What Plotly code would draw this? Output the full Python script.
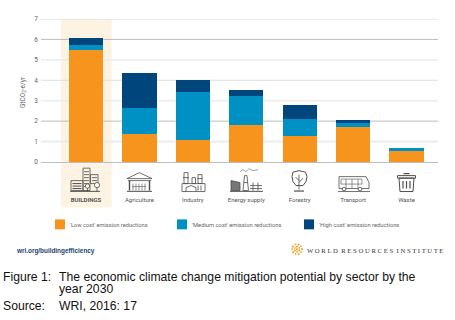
import math
import plotly.graph_objects as go

categories = ["BUILDINGS", "Agriculture", "Industry", "Energy supply", "Forestry", "Transport", "Waste"]
low_cost = [5.50, 1.37, 1.09, 1.81, 1.27, 1.73, 0.54]
medium_cost = [0.23, 1.28, 2.35, 1.40, 0.83, 0.19, 0.16]
high_cost = [0.34, 1.70, 0.55, 0.32, 0.68, 0.15, 0.0]
y_ticks = [0, 1, 2, 3, 4, 5, 6, 7]
grid_colors = {1: "#ececec", 2: "#bdbdbd", 3: "#ececec", 4: "#dedede", 5: "#ececec", 6: "#bdbdbd", 7: "#e8e8e8"}
grid_widths = {1: 2, 2: 1, 3: 1.5, 4: 1, 5: 1.5, 6: 1, 7: 2}

ORANGE, TEAL, NAVY = "#f7941e", "#0091c4", "#00457c"
GREY = "#4d4d4d"
W, H = 455, 320
L, R, T, B = 41, 438, 18.5, 162.3


def fx(x):
    return (x - L) / (R - L)


def fy(y):
    return (B - y) / (B - T)


def path(points, close=False, color=GREY, width=0.8, fill=None):
    d = "M" + " L".join(f"{fx(x):.5f},{fy(y):.5f}" for x, y in points) + (" Z" if close else "")
    s = dict(type="path", xref="paper", yref="paper", path=d, line=dict(color=color, width=width))
    if fill:
        s["fillcolor"] = fill
    return s


def rect(x0, y0, x1, y1, color=GREY, width=0.8, fill=None, layer="above"):
    s = dict(type="rect", xref="paper", yref="paper", x0=fx(x0), x1=fx(x1), y0=fy(y1), y1=fy(y0),
             line=dict(color=color, width=width), layer=layer)
    if fill:
        s["fillcolor"] = fill
    if width == 0:
        s["line"] = dict(width=0)
    return s


def circle(cx, cy, r, color=GREY, width=0.8, fill=None):
    s = dict(type="circle", xref="paper", yref="paper", x0=fx(cx - r), x1=fx(cx + r), y0=fy(cy + r), y1=fy(cy - r),
             line=dict(color=color, width=width))
    if fill:
        s["fillcolor"] = fill
    if width == 0:
        s["line"] = dict(width=0)
    return s


shapes = [rect(61, 19, 111.7, 208, fill="#fdf3e3", width=0, layer="below")]
for v in y_ticks[1:]:
    shapes.append(dict(type="line", xref="paper", yref="y", x0=0, x1=1, y0=v, y1=v, layer="below",
                       line=dict(color=grid_colors[v], width=grid_widths[v])))

# --- Sector pictograms ---
# Buildings
shapes += [rect(83, 168.5, 90, 191), rect(71, 181, 83, 191), rect(90.5, 175, 98, 184)]
for yy in (172, 175, 178, 181, 184, 187):
    shapes.append(path([(84, yy), (89, yy)]))
for yy in (184, 186.5, 189):
    shapes.append(path([(72.5, yy), (81.5, yy)], width=1))
for yy in (178, 181):
    shapes.append(path([(92, yy), (97, yy)]))
shapes += [circle(87.5, 186.5, 2.2, fill="white"), circle(97, 185.5, 2.6, fill="white"),
           path([(87.5, 188.5), (87.5, 192)]), path([(97, 188), (97, 192)]), path([(70, 191.8), (100, 191.8)], width=1)]
# Agriculture
shapes += [path([(127, 179), (139.5, 173), (152, 179)], True), path([(128, 181), (151, 181)]),
           path([(129.5, 181), (129.5, 191)], width=1.4), path([(149.5, 181), (149.5, 191)], width=1.4),
           path([(127, 191.8), (152, 191.8)], width=1)]
for xx in (133, 136, 139, 142, 145):
    shapes.append(path([(xx, 191), (xx, 184)], color="#777777"))
shapes.append(path([(132, 187), (146, 187)], color="#777777"))
# Industry
shapes += [rect(182, 184, 205, 192), rect(184, 173, 188, 184), rect(192, 178, 195.5, 184), rect(198, 175, 202, 184),
           path([(186, 192), (186, 188), (191, 186), (196, 188), (196, 192)]),
           path([(198, 186), (198, 191)]), path([(201, 186), (201, 191)]), path([(183, 178), (189, 178)]),
           path([(197.5, 179), (202.5, 179)])]
# Energy supply
shapes += [path([(231, 181), (240, 183), (240, 191), (231, 191)], True, fill="#777777"),
           path([(243, 191), (244.5, 176), (247, 176), (248.5, 191)], True),
           path([(244, 183), (248, 183)]),
           path([(240, 172), (243, 170), (246, 172), (249, 169), (253, 171), (258, 170)], color="#888888"),
           path([(250, 186), (262, 186)]), path([(250, 189), (262, 189)]),
           path([(253, 183), (253, 191)]), path([(258, 183), (258, 191)]), path([(230, 191.8), (263, 191.8)], width=1)]
# Forestry
shapes += [path([(292, 177), (293, 172.5), (299, 171), (305.5, 172.5), (307, 177), (306, 182), (303, 186),
                 (296, 186), (293, 182)], True, width=1),
           path([(299, 175), (299, 190)]), path([(299, 181), (295.5, 177.5)]), path([(299, 183), (303, 178.5)]),
           path([(294, 191.5), (304, 191.5)], width=1.2)]
# Transport
shapes += [path([(339, 177), (366, 177), (369, 183), (369, 189), (339, 189)], True),
           rect(341, 179.5, 362, 184.5, width=0.6), path([(346, 179.5), (346, 189)], width=0.6),
           path([(352, 179.5), (352, 189)], width=0.6), path([(358, 179.5), (358, 189)], width=0.6),
           circle(344, 189.5, 1.8, fill="white"), circle(360, 189.5, 1.8, fill="white"),
           path([(338, 192), (370, 192)], width=0.8)]
# Waste
shapes += [rect(397.5, 176, 415.5, 178.5, width=1), path([(399, 178.5), (400, 192), (413, 192), (414, 178.5)], True, width=1),
           path([(403.5, 174), (409.5, 174)], width=1.2), path([(403, 181.5), (403, 189)], width=1.2),
           path([(406.5, 181.5), (406.5, 189)], width=1.2), path([(410, 181.5), (410, 189)], width=1.2)]

# --- Legend swatches ---
shapes += [rect(55, 220, 65, 230, fill=ORANGE, width=0), rect(177, 220, 187, 230, fill=TEAL, width=0),
           rect(304, 220, 314, 230, fill=NAVY, width=0)]

# --- Logo ---
for r, n in ((0, 1), (2.6, 6), (5, 10)):
    for i in range(n):
        a = 2 * math.pi * i / n + r
        shapes.append(circle(297 + r * math.cos(a), 250 + r * math.sin(a), 1.0,
                             fill="#f6b73c" if i % 2 else "#f39c1f", width=0))


def note(x, y, text, size=6, color="#666666", family="Roboto, Arial, sans-serif", **kw):
    anchor = kw.pop("xanchor", "left")
    px = x - 2 if anchor == "left" else x
    return dict(xref="paper", yref="paper", x=fx(px), y=fy(y + 1), text=text, showarrow=False, xanchor=anchor,
                yanchor="middle", align="left", font=dict(size=size, color=color, family=family), **kw)


CAPTION = "Liberation Sans, Arial, sans-serif"
annotations = [
    note(23, 91, "GtCO<sub>2</sub>-e/yr", size=6.5, textangle=-90, xanchor="center"),
    note(70, 225, "'Low cost' emission reductions", size=5.7),
    note(192, 225, "'Medium cost' emission reductions", size=5.8),
    note(319, 225, "'High cost' emission reductions", size=5.8),
    note(16, 250.3, "<b>wri.org/buildingefficiency</b>", size=6.4, color="#1d3f72", family=CAPTION),
    note(307, 250.3, "W O R L D  R E S O U R C E S  I N S T I T U T E", size=6.7, color="#333333", family="Liberation Serif, serif"),
    note(3, 277, "Figure 1:", size=12.2, color="#111111", family=CAPTION),
    note(59, 277, "The economic climate change mitigation potential by sector by the", size=12.2, color="#111111", family=CAPTION),
    note(59, 289, "year 2030", size=12.2, color="#111111", family=CAPTION),
    note(3, 306, "Source:", size=12.2, color="#111111", family=CAPTION),
    note(59, 306, "WRI, 2016: 17", size=12.2, color="#111111", family=CAPTION),
]

fig = go.Figure()
for name, vals, col in (("Low cost", low_cost, ORANGE), ("Medium cost", medium_cost, TEAL), ("High cost", high_cost, NAVY)):
    fig.add_bar(x=categories, y=vals, name=name, marker=dict(color=col, line=dict(width=0)), width=0.64)

fig.update_layout(
    barmode="stack", width=W, height=H, showlegend=False, paper_bgcolor="white", plot_bgcolor="rgba(0,0,0,0)",
    margin=dict(l=L, r=W - R, t=T, b=H - B, pad=0), shapes=shapes, annotations=annotations,
    font=dict(family="Roboto, Arial, sans-serif", size=6, color="#666666"),
)
fig.update_xaxes(type="category", categoryorder="array", categoryarray=categories, range=[-0.843, 6.59],
                 tickmode="array", tickvals=categories,
                 ticktext=["<b>BUILDINGS</b>"] + categories[1:], ticks="", ticklabelstandoff=32,
                 tickfont=dict(size=6, color="#555555"), showgrid=False,
                 showline=True, linecolor="#bdbdbd", linewidth=1, zeroline=False)
fig.update_yaxes(range=[0, 7], tickvals=y_ticks, showgrid=False, zeroline=False, ticks="", ticklabelstandoff=2,
                 tickfont=dict(size=6.5, color="#666666"))
fig.write_html("out.html", config={"displayModeBar": False},
               post_script="document.body.style.margin='0';document.body.style.overflow='hidden';")
